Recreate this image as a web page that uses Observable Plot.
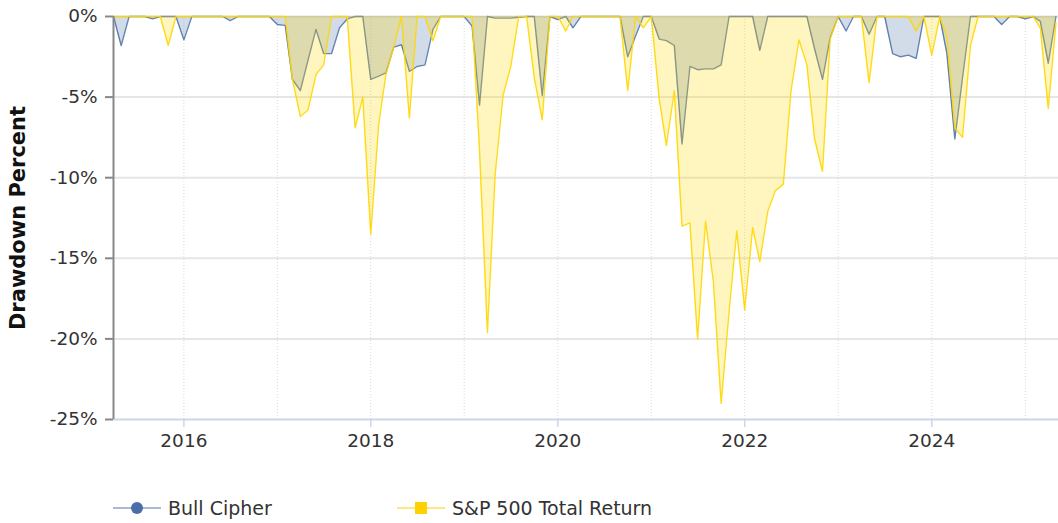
<!DOCTYPE html>
<html><head><meta charset="utf-8">
<script src="https://cdn.jsdelivr.net/npm/d3@7"></script>
<script src="https://cdn.jsdelivr.net/npm/@observablehq/plot@0.6"></script>
<style>
body{margin:0;background:#fff;font-family:"DejaVu Sans",Verdana,sans-serif;}
#chart svg{display:block;}
#legend{position:relative;height:53px;font-size:19px;color:#333;}
.item{position:absolute;top:26px;display:flex;align-items:center;white-space:nowrap;line-height:24px;}
.item svg{margin-right:7px;}
</style></head><body>
<div id="chart"></div>
<div id="legend"></div>
<script>
// month-end observations starting March 2016
const startYear = 2016, startMonth = 3;
const bullCipher = [
  0,-1.8,0,0,0,-0.15,0,0,0,-1.45,0,0,
  0,0,0,-0.25,0,0,0,0,0,-0.5,-0.55,-3.9,
  -4.6,-2.7,-0.8,-2.3,-2.3,-0.7,-0.15,0,0,-3.9,-3.7,-3.5,
  -1.9,-1.75,-3.4,-3.1,-3.0,-0.8,0,0,0,0,-0.6,-5.5,
  0,-0.1,-0.1,-0.1,-0.05,0,0,-4.9,0,-0.2,0,-0.7,
  0,0,0,0,0,0,-2.5,-1.2,0,0,-1.4,-1.5,
  -1.8,-7.9,-3.1,-3.3,-3.25,-3.25,-3.0,0,0,0,0,-2.1,
  0,0,0,0,0,0,-2.0,-3.9,-1.3,0,-0.9,0,
  0,-1.1,0,0,-2.3,-2.5,-2.4,-2.6,0,0,0,-2.3,
  -7.6,-3.8,0,0,0,0,-0.5,0,0,-0.15,0,-0.3,
  -2.9,0
];
const sp500 = [
  0,0,0,0,0,0,0,-1.8,0,0,0,0,
  0,0,0,0,0,0,0,0,0,0,0,-3.9,
  -6.2,-5.8,-3.6,-3.0,0,0,0,-6.9,-5.0,-13.5,-6.7,-3.6,
  -1.9,0,-6.3,0,0,-1.5,0,0,0,0,0,-8.3,
  -19.6,-9.8,-4.9,-3.1,0,0,-3.8,-6.4,0,0,-0.9,0,
  0,0,0,0,0,0,-4.6,0,-0.7,0,-5.1,-8.0,
  -4.6,-13.0,-12.8,-20.0,-12.7,-16.5,-24.0,-18.3,-13.3,-18.2,-13.1,-15.2,
  -12.1,-10.8,-10.4,-4.6,-1.45,-3.0,-7.6,-9.6,-1.4,0,0,0,
  0,-4.1,0,0,0,0,0,-0.9,0,-2.4,0,-1.3,
  -6.9,-7.5,-1.8,0,0,0,0,0,0,0,0,-0.7,
  -5.7,-0.4
];
const seriesNames = ["Bull Cipher", "S&P 500 Total Return"];
const seriesColors = ["#4a6fa5", "#ffd700"];
const yTicks = [0, -5, -10, -15, -20, -25];
const labelYears = [2016, 2018, 2020, 2022, 2024];
const gridYears = [2016, 2017, 2018, 2019, 2020, 2021, 2022, 2023, 2024, 2025];

const monthEnd = i => new Date(Date.UTC(startYear, startMonth + i, 0));
const yearEnd = y => new Date(Date.UTC(y, 12, 0));
const bullData = bullCipher.map((v, i) => ({date: monthEnd(i), value: v}));
const spData = sp500.map((v, i) => ({date: monthEnd(i), value: v}));
const first = bullData[0].date, last = bullData[bullData.length - 1].date;
const xEnd = new Date(+last + 10 * 864e5);

const chart = Plot.plot({
  width: 1058, height: 470,
  marginLeft: 113, marginRight: 0, marginTop: 16, marginBottom: 51,
  style: {fontFamily: "DejaVu Sans, Verdana, sans-serif", fontSize: "18.5px", color: "#333", background: "#fff"},
  x: {type: "utc", domain: [first, xEnd]},
  y: {domain: [-25, 0]},
  marks: [
    Plot.ruleY(yTicks.slice(0, -1), {stroke: "#e6e6e6", strokeWidth: 2}),
    Plot.ruleX(gridYears.map(yearEnd), {stroke: "#d8d8d8", strokeDasharray: "1,2"}),
    Plot.areaY(bullData, {x: "date", y: "value", fill: seriesColors[0], fillOpacity: 0.25}),
    Plot.lineY(bullData, {x: "date", y: "value", stroke: seriesColors[0], strokeWidth: 1.4, strokeOpacity: 0.85}),
    Plot.areaY(spData, {x: "date", y: "value", fill: seriesColors[1], fillOpacity: 0.25}),
    Plot.lineY(spData, {x: "date", y: "value", stroke: seriesColors[1], strokeWidth: 1.4, strokeOpacity: 0.9}),
    Plot.ruleY([-25], {stroke: "#ccd6eb", strokeWidth: 2}),
    Plot.ruleX([first], {stroke: "#888", strokeWidth: 2}),
    Plot.axisY({ticks: yTicks, tickFormat: d => d + "%", tickSize: 8, tickPadding: 8, stroke: "#888", strokeWidth: 2, fill: "#333", label: null}),
    Plot.axisX({ticks: labelYears.map(yearEnd), tickFormat: d => String(d.getUTCFullYear()), tickSize: 8, tickPadding: 6, stroke: "#ccd6eb", strokeWidth: 1.5, fill: "#333", label: null}),
    Plot.text(["Drawdown Percent"], {frameAnchor: "left", textAnchor: "middle", dx: -95, rotate: -90, fontWeight: "bold", fontSize: 21, fill: "#111"})
  ]
});
document.getElementById("chart").appendChild(chart);

const legend = document.getElementById("legend");
const markers = [
  `<svg width="48" height="16"><line x1="0" x2="48" y1="8" y2="8" stroke="#a6b9d6" stroke-width="2"/><circle cx="24" cy="8" r="6" fill="#4a6ea9"/></svg>`,
  `<svg width="48" height="16"><line x1="0" x2="48" y1="8" y2="8" stroke="#ffe680" stroke-width="2"/><rect x="18" y="2" width="12" height="12" fill="#ffd100"/></svg>`
];
const lefts = [113, 397];
seriesNames.forEach((name, k) => {
  const d = document.createElement("div");
  d.className = "item";
  d.style.left = lefts[k] + "px";
  d.innerHTML = markers[k] + `<span>${name.replace("&", "&amp;")}</span>`;
  legend.appendChild(d);
});
</script>
</body></html>
